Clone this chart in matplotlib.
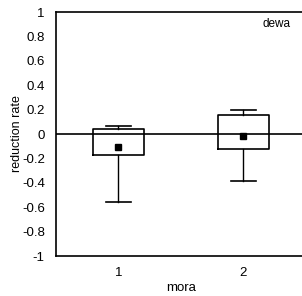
import matplotlib
matplotlib.use('Agg')
import matplotlib.pyplot as plt

plt.rcParams['font.family'] = ['Liberation Sans', 'DejaVu Sans']

# data
categories = ['1', '2']
q1 = [-0.17, -0.12]
q3 = [0.04, 0.16]
whislo = [-0.56, -0.385]
whishi = [0.07, 0.20]
means = [-0.11, -0.02]
yticks = [1, 0.8, 0.6, 0.4, 0.2, 0, -0.2, -0.4, -0.6, -0.8, -1]

fig = plt.figure(figsize=(3.02, 2.96), dpi=100)
ax = fig.add_axes([0.185, 0.135, 0.828, 0.8243])

stats = []
for i in range(len(categories)):
    stats.append({'q1': q1[i], 'q3': q3[i], 'med': q3[i], 'mean': means[i],
                  'whislo': whislo[i], 'whishi': whishi[i], 'fliers': []})

pos = list(range(1, len(categories) + 1))
ax.bxp(stats, positions=pos, widths=0.41, showmeans=True, showfliers=False,
       boxprops=dict(color='black', linewidth=1.2),
       whiskerprops=dict(color='black', linewidth=1.0),
       capprops=dict(color='black', linewidth=1.2),
       medianprops=dict(linewidth=0),
       meanprops=dict(marker='s', markerfacecolor='black', markeredgecolor='black', markersize=5))

ax.axhline(0, color='black', linewidth=1.2, zorder=0)
ax.set_xlim(0.5, 2.5)
ax.set_ylim(-1, 1)
ax.set_yticks(yticks)
ax.set_yticklabels([('%g' % v) for v in yticks])
ax.set_xticks(pos)
ax.set_xticklabels(categories)
ax.tick_params(length=0, labelsize=9.5, pad=8)
ax.spines['right'].set_visible(False)
for s in ['left', 'top', 'bottom']:
    ax.spines[s].set_linewidth(1.2)
ax.set_xlabel('mora', fontsize=9.5, labelpad=2)
ax.set_ylabel('reduction rate', fontsize=9)
ax.yaxis.set_label_coords(-0.132, 0.5)
ax.text(2.15, 0.9, 'dewa', fontsize=8.5, ha='left', va='center')

fig.savefig('out.png', dpi=100)
